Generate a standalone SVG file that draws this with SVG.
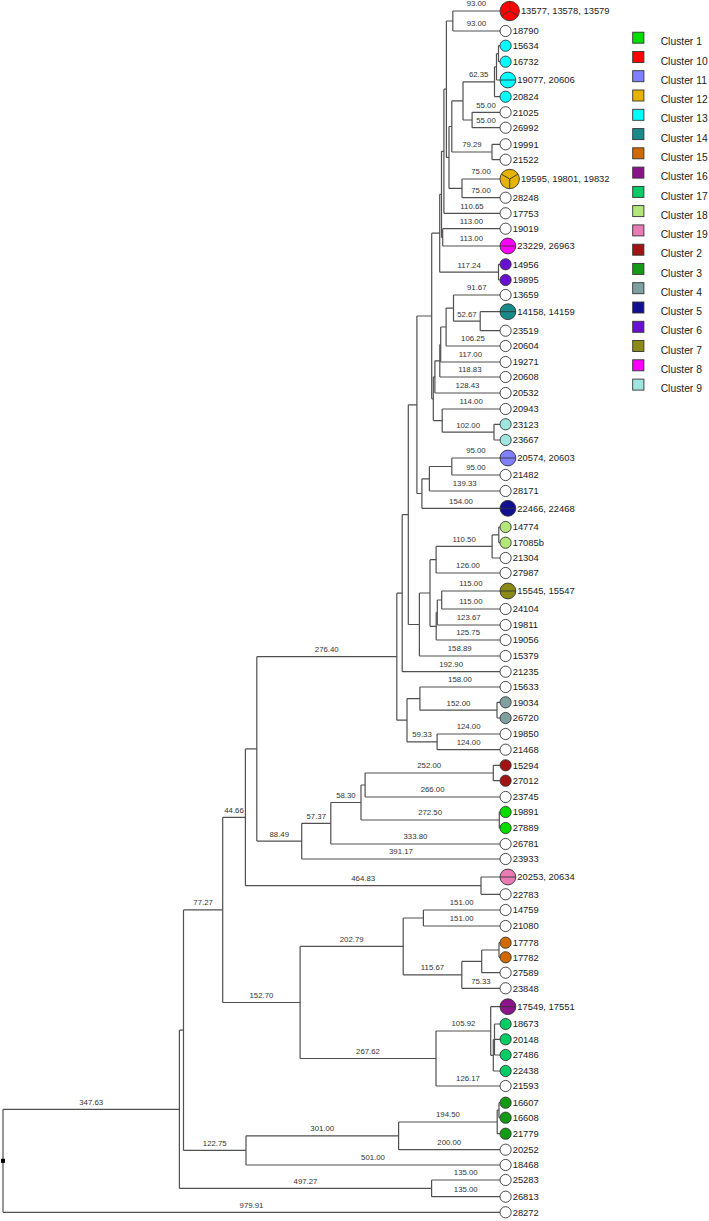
<svg xmlns="http://www.w3.org/2000/svg" width="709" height="1221" viewBox="0 0 709 1221">
<style>
.ln{fill:none;stroke:#505050;stroke-width:1.2}
.bl{font-family:"Liberation Sans",Arial,sans-serif;font-size:7.8px;fill:#333;text-anchor:middle}
.lf{font-family:"Liberation Sans",Arial,sans-serif;font-size:9.4px;fill:#1a1a1a}
.lg{font-family:"Liberation Sans",Arial,sans-serif;font-size:10.3px;fill:#222}
.c{stroke:#333;stroke-width:0.9}
.d{stroke:#333;stroke-width:0.9;fill:none}
.w{fill:#fff}
.k1{fill:#00dd00}.k10{fill:#ff0000}.k11{fill:#8080ff}.k12{fill:#e6b400}.k13{fill:#00ffff}.k14{fill:#178a8a}.k15{fill:#d06a00}.k16{fill:#8b148b}.k17{fill:#00cc66}.k18{fill:#b4e67a}.k19{fill:#ea7ab4}.k2{fill:#a01414}.k3{fill:#149a14}.k4{fill:#80a0a0}.k5{fill:#101090}.k6{fill:#6a10d0}.k7{fill:#8a8a14}.k8{fill:#ff00ff}.k9{fill:#a0e6e0}
</style>
<rect width="709" height="1221" fill="#fff"/>
<g id="connectors" class="ln">
<path d="M452.8,11V31M452.8,11H500M452.8,31H500"/>
<path d="M498.5,45.7V61.7M498.5,45.7H500M498.5,61.7H500"/>
<path d="M496.5,53.7V80M496.5,53.7H498.5M496.5,80H500"/>
<path d="M494.5,66.9V96.7M494.5,66.9H496.5M494.5,96.7H500"/>
<path d="M472.1,112.3V127.7M472.1,112.3H500M472.1,127.7H500"/>
<path d="M463,81.8V120M463,81.8H494.5M463,120H472.1"/>
<path d="M492,144.3V159.7M492,144.3H500M492,159.7H500"/>
<path d="M451.8,100.9V152M451.8,100.9H463M451.8,152H492"/>
<path d="M462,179V197.7M462,179H500M462,197.7H500"/>
<path d="M449,126.5V188.4M449,126.5H451.8M449,188.4H462"/>
<path d="M446.4,21V157.4M446.4,21H452.8M446.4,157.4H449"/>
<path d="M443.9,89.2V213.3M443.9,89.2H446.4M443.9,213.3H500"/>
<path d="M442.7,228.7V246M442.7,228.7H500M442.7,246H500"/>
<path d="M441.5,151.3V237.4M441.5,151.3H443.9M441.5,237.4H442.7"/>
<path d="M498.5,264.3V280M498.5,264.3H500M498.5,280H500"/>
<path d="M439.7,194.3V272.2M439.7,194.3H441.5M439.7,272.2H498.5"/>
<path d="M480.2,311.7V330.7M480.2,311.7H500M480.2,330.7H500"/>
<path d="M453.5,295V321.2M453.5,295H500M453.5,321.2H480.2"/>
<path d="M446.1,308.1V346M446.1,308.1H453.5M446.1,346H500"/>
<path d="M440.7,327V362M440.7,327H446.1M440.7,362H500"/>
<path d="M439.8,344.5V377M439.8,344.5H440.7M439.8,377H500"/>
<path d="M434.9,360.8V393M434.9,360.8H439.8M434.9,393H500"/>
<path d="M494,424.3V440M494,424.3H500M494,440H500"/>
<path d="M442.2,409V432.2M442.2,409H500M442.2,432.2H494"/>
<path d="M433.3,376.9V420.6M433.3,376.9H434.9M433.3,420.6H442.2"/>
<path d="M431.7,233.2V398.8M431.7,233.2H439.7M431.7,398.8H433.3"/>
<path d="M451.8,458V475M451.8,458H500M451.8,475H500"/>
<path d="M429.4,466.5V491M429.4,466.5H451.8M429.4,491H500"/>
<path d="M421.9,478.8V508.3M421.9,478.8H429.4M421.9,508.3H500"/>
<path d="M416.9,316V493.5M416.9,316H431.7M416.9,493.5H421.9"/>
<path d="M498.8,527V542.7M498.8,527H500M498.8,542.7H500"/>
<path d="M492.1,534.9V558M492.1,534.9H498.8M492.1,558H500"/>
<path d="M436.1,546.4V573M436.1,546.4H492.1M436.1,573H500"/>
<path d="M441.7,591V609M441.7,591H500M441.7,609H500"/>
<path d="M437.3,600V625M437.3,600H441.7M437.3,625H500"/>
<path d="M436.2,612.5V640M436.2,612.5H437.3M436.2,640H500"/>
<path d="M430,559.7V626.3M430,559.7H436.1M430,626.3H436.2"/>
<path d="M419.4,593V656M419.4,593H430M419.4,656H500"/>
<path d="M408.3,404.8V624.5M408.3,404.8H416.9M408.3,624.5H419.4"/>
<path d="M402.2,514.6V671.7M402.2,514.6H408.3M402.2,671.7H500"/>
<path d="M497,702.3V718M497,702.3H500M497,718H500"/>
<path d="M419.9,687V710.2M419.9,687H500M419.9,710.2H497"/>
<path d="M437.1,734V749.7M437.1,734H500M437.1,749.7H500"/>
<path d="M407,698.6V741.9M407,698.6H419.9M407,741.9H437.1"/>
<path d="M396.8,593.2V720.2M396.8,593.2H402.2M396.8,720.2H407"/>
<path d="M493.3,765.3V780.7M493.3,765.3H500M493.3,780.7H500"/>
<path d="M365.1,773V797M365.1,773H493.3M365.1,797H500"/>
<path d="M499.3,812V828M499.3,812H500M499.3,828H500"/>
<path d="M361,785V820M361,785H365.1M361,820H499.3"/>
<path d="M330.8,802.5V844M330.8,802.5H361M330.8,844H500"/>
<path d="M301.7,823.3V859M301.7,823.3H330.8M301.7,859H500"/>
<path d="M256.8,656.7V841.1M256.8,656.7H396.8M256.8,841.1H301.7"/>
<path d="M481,877V894.3M481,877H500M481,894.3H500"/>
<path d="M245.4,748.9V885.7M245.4,748.9H256.8M245.4,885.7H481"/>
<path d="M423.4,910V926M423.4,910H500M423.4,926H500"/>
<path d="M499,942.7V957.3M499,942.7H500M499,957.3H500"/>
<path d="M481.7,950V972.7M481.7,950H499M481.7,972.7H500"/>
<path d="M461.8,961.4V988.3M461.8,961.4H481.7M461.8,988.3H500"/>
<path d="M403.2,918V974.8M403.2,918H423.4M403.2,974.8H461.8"/>
<path d="M494.5,1024V1055M494.5,1024H500M494.5,1039.3H500M494.5,1055H500"/>
<path d="M493.3,1039.5V1071M493.3,1039.5H494.5M493.3,1071H500"/>
<path d="M490.7,1006.7V1055.3M490.7,1006.7H500M490.7,1055.3H493.3"/>
<path d="M436,1031V1086M436,1031H490.7M436,1086H500"/>
<path d="M300.1,946.4V1058.5M300.1,946.4H403.2M300.1,1058.5H436"/>
<path d="M222.7,817.3V1002.5M222.7,817.3H245.4M222.7,1002.5H300.1"/>
<path d="M499,1102.7V1117.7M499,1102.7H500M499,1117.7H500"/>
<path d="M497.2,1110.2V1133.7M497.2,1110.2H499M497.2,1133.7H500"/>
<path d="M398.6,1122V1149.7M398.6,1122H497.2M398.6,1149.7H500"/>
<path d="M246,1135.8V1165M246,1135.8H398.6M246,1165H500"/>
<path d="M183.5,909.9V1150.4M183.5,909.9H222.7M183.5,1150.4H246"/>
<path d="M431.6,1180V1196.7M431.6,1180H500M431.6,1196.7H500"/>
<path d="M179.4,1030.2V1188.4M179.4,1030.2H183.5M179.4,1188.4H431.6"/>
<path d="M3,1109.3V1212.3M3,1109.3H179.4M3,1212.3H500"/>
</g>
<rect id="root" x="1" y="1158.8" width="4" height="4" fill="#000"/>
<g id="branch-labels" class="bl">
<text x="476.4" y="6.4">93.00</text>
<text x="476.4" y="26.4">93.00</text>
<text x="478.7" y="77.2">62.35</text>
<text x="486" y="107.7">55.00</text>
<text x="486" y="123.1">55.00</text>
<text x="471.9" y="147.4">79.29</text>
<text x="481" y="174.4">75.00</text>
<text x="481" y="193.1">75.00</text>
<text x="472" y="208.7">110.65</text>
<text x="471.4" y="224.1">113.00</text>
<text x="471.4" y="241.4">113.00</text>
<text x="469.1" y="267.6">117.24</text>
<text x="476.8" y="290.4">91.67</text>
<text x="466.9" y="316.6">52.67</text>
<text x="473" y="341.4">106.25</text>
<text x="470.4" y="357.4">117.00</text>
<text x="469.9" y="372.4">118.83</text>
<text x="467.5" y="388.4">128.43</text>
<text x="471.1" y="404.4">114.00</text>
<text x="468.1" y="427.6">102.00</text>
<text x="475.9" y="453.4">95.00</text>
<text x="475.9" y="470.4">95.00</text>
<text x="464.7" y="486.4">139.33</text>
<text x="461" y="503.7">154.00</text>
<text x="464.1" y="541.8">110.50</text>
<text x="468" y="568.4">126.00</text>
<text x="470.9" y="586.4">115.00</text>
<text x="470.9" y="604.4">115.00</text>
<text x="468.7" y="620.4">123.67</text>
<text x="468.1" y="635.4">125.75</text>
<text x="459.7" y="651.4">158.89</text>
<text x="451.1" y="667.1">192.90</text>
<text x="460" y="682.4">158.00</text>
<text x="458.5" y="705.6">152.00</text>
<text x="468.6" y="729.4">124.00</text>
<text x="468.6" y="745.1">124.00</text>
<text x="422" y="737.3">59.33</text>
<text x="326.8" y="652.1">276.40</text>
<text x="429.2" y="768.4">252.00</text>
<text x="432.6" y="792.4">266.00</text>
<text x="345.9" y="797.9">58.30</text>
<text x="430.1" y="815.4">272.50</text>
<text x="415.4" y="839.4">333.80</text>
<text x="316.3" y="818.6">57.37</text>
<text x="400.9" y="854.4">391.17</text>
<text x="279.3" y="836.5">88.49</text>
<text x="234" y="812.7">44.66</text>
<text x="363.2" y="881.1">464.83</text>
<text x="203.1" y="905.3">77.27</text>
<text x="461.7" y="905.4">151.00</text>
<text x="461.7" y="921.4">151.00</text>
<text x="351.7" y="941.8">202.79</text>
<text x="432.5" y="970.2">115.67</text>
<text x="480.9" y="983.7">75.33</text>
<text x="261.4" y="997.9">152.70</text>
<text x="463.4" y="1026.4">105.92</text>
<text x="368" y="1053.9">267.62</text>
<text x="468" y="1081.4">126.17</text>
<text x="91.2" y="1104.7">347.63</text>
<text x="447.9" y="1117.4">194.50</text>
<text x="322.3" y="1131.2">301.00</text>
<text x="449.3" y="1145.1">200.00</text>
<text x="214.8" y="1145.8">122.75</text>
<text x="373" y="1160.4">501.00</text>
<text x="305.5" y="1183.7">497.27</text>
<text x="465.8" y="1175.4">135.00</text>
<text x="465.8" y="1192.1">135.00</text>
<text x="251.5" y="1207.7">979.91</text>
</g>
<g id="leaves" class="lf">
<g id="leaf-13577"><circle class="c k10" cx="509.7" cy="11" r="9.7"/><path class="d" d="M509.7,11V1.3M509.7,11L501.3,15.9M509.7,11L518.1,15.9"/><text x="520.9" y="14.4">13577, 13578, 13579</text></g>
<g id="leaf-18790"><circle class="c w" cx="505.6" cy="31" r="5.6"/><text x="512.7" y="34.4">18790</text></g>
<g id="leaf-15634"><circle class="c k13" cx="505.6" cy="45.7" r="5.6"/><text x="512.7" y="49.1">15634</text></g>
<g id="leaf-16732"><circle class="c k13" cx="505.6" cy="61.7" r="5.6"/><text x="512.7" y="65.1">16732</text></g>
<g id="leaf-19077"><circle class="c k13" cx="507.9" cy="80" r="7.9"/><path class="d" d="M500,80H515.8"/><text x="517.3" y="83.4">19077, 20606</text></g>
<g id="leaf-20824"><circle class="c k13" cx="505.6" cy="96.7" r="5.6"/><text x="512.7" y="100.1">20824</text></g>
<g id="leaf-21025"><circle class="c w" cx="505.6" cy="112.3" r="5.6"/><text x="512.7" y="115.7">21025</text></g>
<g id="leaf-26992"><circle class="c w" cx="505.6" cy="127.7" r="5.6"/><text x="512.7" y="131.1">26992</text></g>
<g id="leaf-19991"><circle class="c w" cx="505.6" cy="144.3" r="5.6"/><text x="512.7" y="147.7">19991</text></g>
<g id="leaf-21522"><circle class="c w" cx="505.6" cy="159.7" r="5.6"/><text x="512.7" y="163.1">21522</text></g>
<g id="leaf-19595"><circle class="c k12" cx="509.7" cy="179" r="9.7"/><path class="d" d="M509.7,179V188.7M509.7,179L501.3,174.1M509.7,179L518.1,174.1"/><text x="520.9" y="182.4">19595, 19801, 19832</text></g>
<g id="leaf-28248"><circle class="c w" cx="505.6" cy="197.7" r="5.6"/><text x="512.7" y="201.1">28248</text></g>
<g id="leaf-17753"><circle class="c w" cx="505.6" cy="213.3" r="5.6"/><text x="512.7" y="216.7">17753</text></g>
<g id="leaf-19019"><circle class="c w" cx="505.6" cy="228.7" r="5.6"/><text x="512.7" y="232.1">19019</text></g>
<g id="leaf-23229"><circle class="c k8" cx="507.9" cy="246" r="7.9"/><path class="d" d="M500,246H515.8"/><text x="517.3" y="249.4">23229, 26963</text></g>
<g id="leaf-14956"><circle class="c k6" cx="505.6" cy="264.3" r="5.6"/><text x="512.7" y="267.7">14956</text></g>
<g id="leaf-19895"><circle class="c k6" cx="505.6" cy="280" r="5.6"/><text x="512.7" y="283.4">19895</text></g>
<g id="leaf-13659"><circle class="c w" cx="505.6" cy="295" r="5.6"/><text x="512.7" y="298.4">13659</text></g>
<g id="leaf-14158"><circle class="c k14" cx="507.9" cy="311.7" r="7.9"/><path class="d" d="M500,311.7H515.8"/><text x="517.3" y="315.1">14158, 14159</text></g>
<g id="leaf-23519"><circle class="c w" cx="505.6" cy="330.7" r="5.6"/><text x="512.7" y="334.1">23519</text></g>
<g id="leaf-20604"><circle class="c w" cx="505.6" cy="346" r="5.6"/><text x="512.7" y="349.4">20604</text></g>
<g id="leaf-19271"><circle class="c w" cx="505.6" cy="362" r="5.6"/><text x="512.7" y="365.4">19271</text></g>
<g id="leaf-20608"><circle class="c w" cx="505.6" cy="377" r="5.6"/><text x="512.7" y="380.4">20608</text></g>
<g id="leaf-20532"><circle class="c w" cx="505.6" cy="393" r="5.6"/><text x="512.7" y="396.4">20532</text></g>
<g id="leaf-20943"><circle class="c w" cx="505.6" cy="409" r="5.6"/><text x="512.7" y="412.4">20943</text></g>
<g id="leaf-23123"><circle class="c k9" cx="505.6" cy="424.3" r="5.6"/><text x="512.7" y="427.7">23123</text></g>
<g id="leaf-23667"><circle class="c k9" cx="505.6" cy="440" r="5.6"/><text x="512.7" y="443.4">23667</text></g>
<g id="leaf-20574"><circle class="c k11" cx="507.9" cy="458" r="7.9"/><path class="d" d="M500,458H515.8"/><text x="517.3" y="461.4">20574, 20603</text></g>
<g id="leaf-21482"><circle class="c w" cx="505.6" cy="475" r="5.6"/><text x="512.7" y="478.4">21482</text></g>
<g id="leaf-28171"><circle class="c w" cx="505.6" cy="491" r="5.6"/><text x="512.7" y="494.4">28171</text></g>
<g id="leaf-22466"><circle class="c k5" cx="507.9" cy="508.3" r="7.9"/><path class="d" d="M500,508.3H515.8"/><text x="517.3" y="511.7">22466, 22468</text></g>
<g id="leaf-14774"><circle class="c k18" cx="505.6" cy="527" r="5.6"/><text x="512.7" y="530.4">14774</text></g>
<g id="leaf-17085b"><circle class="c k18" cx="505.6" cy="542.7" r="5.6"/><text x="512.7" y="546.1">17085b</text></g>
<g id="leaf-21304"><circle class="c w" cx="505.6" cy="558" r="5.6"/><text x="512.7" y="561.4">21304</text></g>
<g id="leaf-27987"><circle class="c w" cx="505.6" cy="573" r="5.6"/><text x="512.7" y="576.4">27987</text></g>
<g id="leaf-15545"><circle class="c k7" cx="507.9" cy="591" r="7.9"/><path class="d" d="M500,591H515.8"/><text x="517.3" y="594.4">15545, 15547</text></g>
<g id="leaf-24104"><circle class="c w" cx="505.6" cy="609" r="5.6"/><text x="512.7" y="612.4">24104</text></g>
<g id="leaf-19811"><circle class="c w" cx="505.6" cy="625" r="5.6"/><text x="512.7" y="628.4">19811</text></g>
<g id="leaf-19056"><circle class="c w" cx="505.6" cy="640" r="5.6"/><text x="512.7" y="643.4">19056</text></g>
<g id="leaf-15379"><circle class="c w" cx="505.6" cy="656" r="5.6"/><text x="512.7" y="659.4">15379</text></g>
<g id="leaf-21235"><circle class="c w" cx="505.6" cy="671.7" r="5.6"/><text x="512.7" y="675.1">21235</text></g>
<g id="leaf-15633"><circle class="c w" cx="505.6" cy="687" r="5.6"/><text x="512.7" y="690.4">15633</text></g>
<g id="leaf-19034"><circle class="c k4" cx="505.6" cy="702.3" r="5.6"/><text x="512.7" y="705.7">19034</text></g>
<g id="leaf-26720"><circle class="c k4" cx="505.6" cy="718" r="5.6"/><text x="512.7" y="721.4">26720</text></g>
<g id="leaf-19850"><circle class="c w" cx="505.6" cy="734" r="5.6"/><text x="512.7" y="737.4">19850</text></g>
<g id="leaf-21468"><circle class="c w" cx="505.6" cy="749.7" r="5.6"/><text x="512.7" y="753.1">21468</text></g>
<g id="leaf-15294"><circle class="c k2" cx="505.6" cy="765.3" r="5.6"/><text x="512.7" y="768.7">15294</text></g>
<g id="leaf-27012"><circle class="c k2" cx="505.6" cy="780.7" r="5.6"/><text x="512.7" y="784.1">27012</text></g>
<g id="leaf-23745"><circle class="c w" cx="505.6" cy="797" r="5.6"/><text x="512.7" y="800.4">23745</text></g>
<g id="leaf-19891"><circle class="c k1" cx="505.6" cy="812" r="5.6"/><text x="512.7" y="815.4">19891</text></g>
<g id="leaf-27889"><circle class="c k1" cx="505.6" cy="828" r="5.6"/><text x="512.7" y="831.4">27889</text></g>
<g id="leaf-26781"><circle class="c w" cx="505.6" cy="844" r="5.6"/><text x="512.7" y="847.4">26781</text></g>
<g id="leaf-23933"><circle class="c w" cx="505.6" cy="859" r="5.6"/><text x="512.7" y="862.4">23933</text></g>
<g id="leaf-20253"><circle class="c k19" cx="507.9" cy="877" r="7.9"/><path class="d" d="M500,877H515.8"/><text x="517.3" y="880.4">20253, 20634</text></g>
<g id="leaf-22783"><circle class="c w" cx="505.6" cy="894.3" r="5.6"/><text x="512.7" y="897.7">22783</text></g>
<g id="leaf-14759"><circle class="c w" cx="505.6" cy="910" r="5.6"/><text x="512.7" y="913.4">14759</text></g>
<g id="leaf-21080"><circle class="c w" cx="505.6" cy="926" r="5.6"/><text x="512.7" y="929.4">21080</text></g>
<g id="leaf-17778"><circle class="c k15" cx="505.6" cy="942.7" r="5.6"/><text x="512.7" y="946.1">17778</text></g>
<g id="leaf-17782"><circle class="c k15" cx="505.6" cy="957.3" r="5.6"/><text x="512.7" y="960.7">17782</text></g>
<g id="leaf-27589"><circle class="c w" cx="505.6" cy="972.7" r="5.6"/><text x="512.7" y="976.1">27589</text></g>
<g id="leaf-23848"><circle class="c w" cx="505.6" cy="988.3" r="5.6"/><text x="512.7" y="991.7">23848</text></g>
<g id="leaf-17549"><circle class="c k16" cx="507.9" cy="1006.7" r="7.9"/><path class="d" d="M500,1006.7H515.8"/><text x="517.3" y="1010.1">17549, 17551</text></g>
<g id="leaf-18673"><circle class="c k17" cx="505.6" cy="1024" r="5.6"/><text x="512.7" y="1027.4">18673</text></g>
<g id="leaf-20148"><circle class="c k17" cx="505.6" cy="1039.3" r="5.6"/><text x="512.7" y="1042.7">20148</text></g>
<g id="leaf-27486"><circle class="c k17" cx="505.6" cy="1055" r="5.6"/><text x="512.7" y="1058.4">27486</text></g>
<g id="leaf-22438"><circle class="c k17" cx="505.6" cy="1071" r="5.6"/><text x="512.7" y="1074.4">22438</text></g>
<g id="leaf-21593"><circle class="c w" cx="505.6" cy="1086" r="5.6"/><text x="512.7" y="1089.4">21593</text></g>
<g id="leaf-16607"><circle class="c k3" cx="505.6" cy="1102.7" r="5.6"/><text x="512.7" y="1106.1">16607</text></g>
<g id="leaf-16608"><circle class="c k3" cx="505.6" cy="1117.7" r="5.6"/><text x="512.7" y="1121.1">16608</text></g>
<g id="leaf-21779"><circle class="c k3" cx="505.6" cy="1133.7" r="5.6"/><text x="512.7" y="1137.1">21779</text></g>
<g id="leaf-20252"><circle class="c w" cx="505.6" cy="1149.7" r="5.6"/><text x="512.7" y="1153.1">20252</text></g>
<g id="leaf-18468"><circle class="c w" cx="505.6" cy="1165" r="5.6"/><text x="512.7" y="1168.4">18468</text></g>
<g id="leaf-25283"><circle class="c w" cx="505.6" cy="1180" r="5.6"/><text x="512.7" y="1183.4">25283</text></g>
<g id="leaf-26813"><circle class="c w" cx="505.6" cy="1196.7" r="5.6"/><text x="512.7" y="1200.1">26813</text></g>
<g id="leaf-28272"><circle class="c w" cx="505.6" cy="1212.3" r="5.6"/><text x="512.7" y="1215.7">28272</text></g>
</g>
<g id="legend" class="lg">
<rect class="c k1" x="632.7" y="32.2" width="11.2" height="11"/><text x="660.7" y="45.3">Cluster 1</text>
<rect class="c k10" x="632.7" y="51.5" width="11.2" height="11"/><text x="660.7" y="64.6">Cluster 10</text>
<rect class="c k11" x="632.7" y="70.7" width="11.2" height="11"/><text x="660.7" y="83.8">Cluster 11</text>
<rect class="c k12" x="632.7" y="90" width="11.2" height="11"/><text x="660.7" y="103.1">Cluster 12</text>
<rect class="c k13" x="632.7" y="109.3" width="11.2" height="11"/><text x="660.7" y="122.4">Cluster 13</text>
<rect class="c k14" x="632.7" y="128.6" width="11.2" height="11"/><text x="660.7" y="141.7">Cluster 14</text>
<rect class="c k15" x="632.7" y="147.8" width="11.2" height="11"/><text x="660.7" y="160.9">Cluster 15</text>
<rect class="c k16" x="632.7" y="167.1" width="11.2" height="11"/><text x="660.7" y="180.2">Cluster 16</text>
<rect class="c k17" x="632.7" y="186.4" width="11.2" height="11"/><text x="660.7" y="199.5">Cluster 17</text>
<rect class="c k18" x="632.7" y="205.6" width="11.2" height="11"/><text x="660.7" y="218.7">Cluster 18</text>
<rect class="c k19" x="632.7" y="224.9" width="11.2" height="11"/><text x="660.7" y="238">Cluster 19</text>
<rect class="c k2" x="632.7" y="244.2" width="11.2" height="11"/><text x="660.7" y="257.3">Cluster 2</text>
<rect class="c k3" x="632.7" y="263.4" width="11.2" height="11"/><text x="660.7" y="276.5">Cluster 3</text>
<rect class="c k4" x="632.7" y="282.7" width="11.2" height="11"/><text x="660.7" y="295.8">Cluster 4</text>
<rect class="c k5" x="632.7" y="302" width="11.2" height="11"/><text x="660.7" y="315.1">Cluster 5</text>
<rect class="c k6" x="632.7" y="321.3" width="11.2" height="11"/><text x="660.7" y="334.4">Cluster 6</text>
<rect class="c k7" x="632.7" y="340.5" width="11.2" height="11"/><text x="660.7" y="353.6">Cluster 7</text>
<rect class="c k8" x="632.7" y="359.8" width="11.2" height="11"/><text x="660.7" y="372.9">Cluster 8</text>
<rect class="c k9" x="632.7" y="379.1" width="11.2" height="11"/><text x="660.7" y="392.2">Cluster 9</text>
</g>
</svg>
